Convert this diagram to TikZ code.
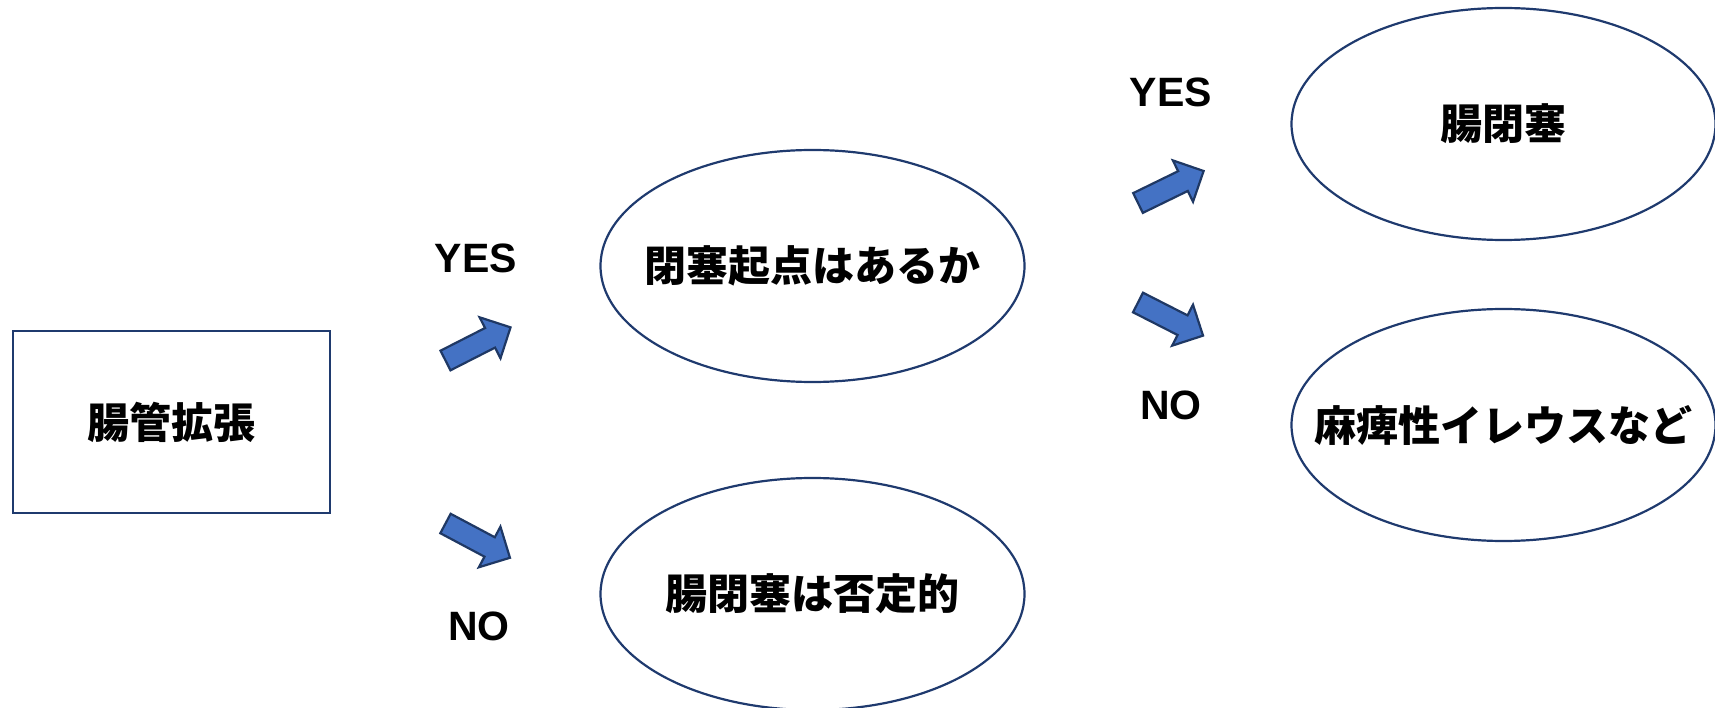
\documentclass[tikz,border=0pt]{standalone}
\usepackage{fontspec}
\setmainfont{Noto Sans CJK JP}
\newfontfamily\latfont{Liberation Sans}
\usetikzlibrary{shapes.geometric}
\definecolor{navy}{HTML}{1F3A6E}
\definecolor{arrfill}{HTML}{4472C4}
\definecolor{arrline}{HTML}{1F3864}
\newcommand\bigtxt{\fontsize{42}{50}\selectfont\bfseries}
\newcommand\lattxt{\latfont\fontsize{41}{48}\selectfont\bfseries}
\newcommand\blockarrow[2]{%
  \begin{scope}[shift={(#1)},rotate=#2]
    \draw[blockarr] (0,-11) -- (50,-11) -- (50,-23) -- (73,0) -- (50,23) -- (50,11) -- (0,11) -- cycle;
  \end{scope}}
\begin{document}
\begin{tikzpicture}[x=1pt,y=-1pt,
  oval/.style={ellipse,draw=navy,line width=2.2pt,minimum width=424pt,minimum height=232pt,inner sep=0pt,font=\bigtxt},
  rbox/.style={rectangle,draw=navy,line width=2.5pt,minimum width=317pt,minimum height=182pt,inner sep=0pt,font=\bigtxt},
  yn/.style={font=\lattxt,inner sep=0pt},
  blockarr/.style={fill=arrfill,draw=arrline,line width=2.2pt,line join=miter}]
\useasboundingbox (0,0) rectangle (1715,708);
\clip (0,0) rectangle (1715,708);
\node[rbox] (start) at (171.5,422) {\raisebox{-8pt}{腸管拡張}};
\node[oval] (q) at (812.5,266) {\makebox[0pt]{\raisebox{-5pt}{閉塞起点はあるか}}};
\node[oval] (neg) at (812.5,594) {\makebox[0pt]{\raisebox{-3pt}{腸閉塞は否定的}}};
\node[oval] (ileus) at (1503.5,124) {\makebox[0pt]{腸閉塞}};
\node[oval] (para) at (1503.5,425) {\makebox[0pt]{\raisebox{-7pt}{麻痺性イレウスなど}}};
\node[yn] (y1) at (476,258) {YES};
\node[yn] (n1) at (479,626) {NO};
\node[yn] (y2) at (1171,92) {YES};
\node[yn] (n2) at (1171,405) {NO};
\coordinate (a1) at (445.5,360.5);
\coordinate (a2) at (445.5,523.5);
\coordinate (a3) at (1138,203);
\coordinate (a4) at (1138,302.5);
\blockarrow{a1}{27}
\blockarrow{a2}{-28}
\blockarrow{a3}{26}
\blockarrow{a4}{-27}
\end{tikzpicture}
\end{document}
